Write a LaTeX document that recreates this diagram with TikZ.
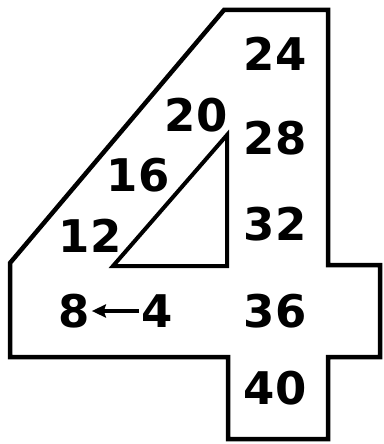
\documentclass[tikz,border=0pt]{standalone}
\usepackage{fontspec}
\newfontfamily\digitfont{DejaVu Sans}
\usetikzlibrary{arrows.meta}

\begin{document}
\begin{tikzpicture}[x=1pt, y=-1pt,
    every node/.style={font=\digitfont\bfseries\fontsize{45}{45}\selectfont, inner sep=1pt}]
  \useasboundingbox (0,0) rectangle (383,444);
  %% Outline of the figure four
  \draw[line width=4.5pt, line join=miter]
    (224,10) -- (328,10) -- (328,265) -- (380,265) -- (380,357)
    -- (328,357) -- (328,439) -- (228,439) -- (228,357) -- (10,357)
    -- (10,263) -- cycle;
  %% Inner triangle (hole of the four)
  \draw[line width=4pt, line join=miter] (227,135) -- (227,266) -- (113,266) -- cycle;

  %% Numbers in the stem: 24 .. 40
  \foreach \n/\y in {24/54, 28/138, 32/224, 36/311, 40/388} {
    \node (n\n) at (275,\y) {\n};
  }
  %% Numbers along the slant
  \node (n20) at (196,115) {20};
  \node (n16) at (138,175) {16};
  \node (n12) at (90,236) {12};
  %% Start of the count
  \node (n8) at (74,311) {8};
  \node (n4) at (157,311) {4};
  \draw[line width=4pt, -{Stealth[length=14pt, width=13pt, inset=2pt]}, shorten >=1pt, shorten <=1pt]
    (n4.west) -- (n8.east);
\end{tikzpicture}
\end{document}
